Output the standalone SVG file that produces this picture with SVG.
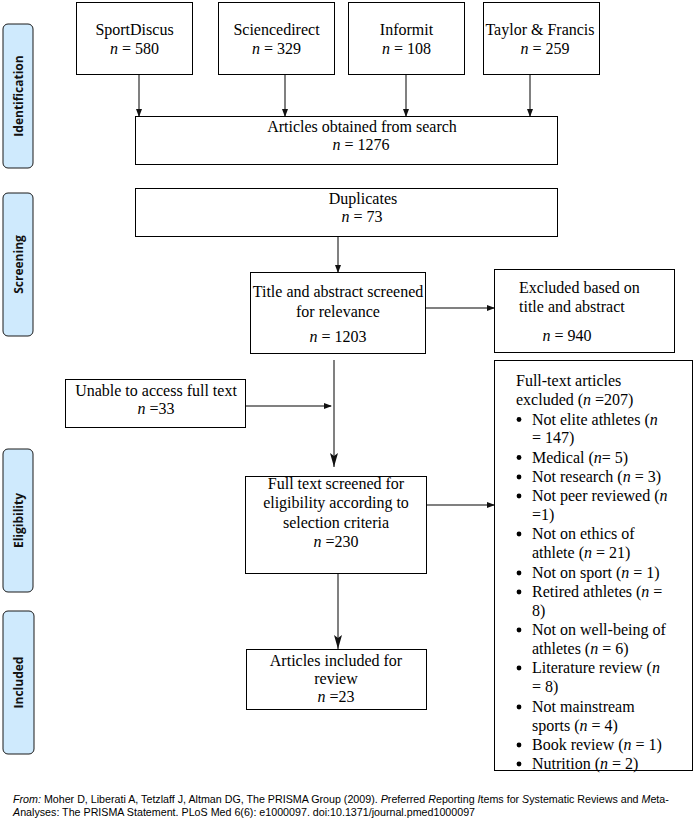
<svg xmlns="http://www.w3.org/2000/svg" width="696" height="827" viewBox="0 0 696 827">
<defs>
<style>
.box{fill:#fff;stroke:#000;stroke-width:1}
.lab{fill:#cfeafd;stroke:#1a1a1a;stroke-width:1}
.lt{font-family:"Open Sans","DejaVu Sans",sans-serif;font-weight:700;font-size:12px;fill:#111;text-anchor:middle}
.t{font-family:"Liberation Serif","Times New Roman",serif;font-size:16px;fill:#000}
.c{text-anchor:middle}
.i{font-style:italic}
.ln{fill:none;stroke:#808080;stroke-width:2}
.foot{font-family:"Liberation Sans",Arial,sans-serif;font-size:10.7px;fill:#000}
</style>
<marker id="ah" markerWidth="8" markerHeight="6" refX="7" refY="3" orient="auto" markerUnits="userSpaceOnUse">
<path d="M0,0 L8,3 L0,6 Z" fill="#111"/>
</marker>
<marker id="ahl" markerWidth="14" markerHeight="8" refX="14" refY="4" orient="auto" markerUnits="userSpaceOnUse">
<path d="M0,0 L14,4 L0,8 L3,4 Z" fill="#111"/>
</marker>
</defs>
<rect width="696" height="827" fill="#fff"/>

<g id="labels">
<g id="lab-identification"><rect class="lab" x="3" y="24" width="30" height="144" rx="5"/><text class="lt" transform="translate(22.5,96) rotate(-90)">Identification</text></g>
<g id="lab-screening"><rect class="lab" x="3" y="193" width="30" height="143" rx="5"/><text class="lt" transform="translate(22.5,264.5) rotate(-90)">Screening</text></g>
<g id="lab-eligibility"><rect class="lab" x="3" y="449" width="30" height="143" rx="5"/><text class="lt" transform="translate(22.5,520.5) rotate(-90)">Eligibility</text></g>
<g id="lab-included"><rect class="lab" x="3" y="611" width="31" height="143" rx="5"/><text class="lt" transform="translate(23,682.5) rotate(-90)">Included</text></g>
</g>

<g id="connectors">
<line class="ln" x1="139" y1="74" x2="139" y2="116" marker-end="url(#ah)"/>
<line class="ln" x1="285" y1="74" x2="285" y2="116" marker-end="url(#ah)"/>
<line class="ln" x1="406" y1="74" x2="406" y2="116" marker-end="url(#ah)"/>
<line class="ln" x1="530" y1="74" x2="530" y2="116" marker-end="url(#ah)"/>
<line class="ln" x1="338" y1="236" x2="338" y2="272" marker-end="url(#ah)"/>
<line class="ln" x1="425" y1="308" x2="494" y2="308" marker-end="url(#ah)"/>
<line class="ln" x1="334" y1="360" x2="334" y2="467" marker-end="url(#ahl)"/>
<line class="ln" x1="245" y1="406" x2="331" y2="406" marker-end="url(#ah)"/>
<line class="ln" x1="426" y1="505" x2="494" y2="505" marker-end="url(#ah)"/>
<line class="ln" x1="338" y1="573" x2="338" y2="649" marker-end="url(#ahl)"/>
</g>

<g id="sportdiscus"><rect class="box" x="76.5" y="2.5" width="116" height="72"/>
<text class="t c" x="134.5" y="35">SportDiscus</text><text class="t c" x="134.5" y="54"><tspan class="i">n</tspan> = 580</text></g>
<g id="sciencedirect"><rect class="box" x="218.5" y="2.5" width="116" height="72"/>
<text class="t c" x="276.5" y="35">Sciencedirect</text><text class="t c" x="276.5" y="54"><tspan class="i">n</tspan> = 329</text></g>
<g id="informit"><rect class="box" x="348.5" y="2.5" width="116" height="72"/>
<text class="t c" x="406.5" y="35">Informit</text><text class="t c" x="406.5" y="54"><tspan class="i">n</tspan> = 108</text></g>
<g id="taylor"><rect class="box" x="483.5" y="2.5" width="116" height="72"/>
<text class="t c" x="540" y="35">Taylor &amp; Francis</text><text class="t c" x="545" y="54"><tspan class="i">n</tspan> = 259</text></g>

<g id="articles-obtained"><rect class="box" x="135.5" y="116.5" width="422" height="48"/>
<text class="t c" x="362" y="132">Articles obtained from search</text><text class="t c" x="361" y="150"><tspan class="i">n</tspan> = 1276</text></g>

<g id="duplicates"><rect class="box" x="135.5" y="188.5" width="422" height="48"/>
<text class="t c" x="363" y="204">Duplicates</text><text class="t c" x="362" y="222"><tspan class="i">n</tspan> = 73</text></g>

<g id="title-abstract"><rect class="box" x="250.5" y="272.5" width="175" height="81"/>
<text class="t c" x="338" y="297">Title and abstract screened</text><text class="t c" x="338" y="317">for relevance</text><text class="t c" x="338" y="342"><tspan class="i">n</tspan> = 1203</text></g>

<g id="excluded-title"><rect class="box" x="494.5" y="269.5" width="180" height="83"/>
<text class="t" x="519" y="293">Excluded based on</text><text class="t" x="519" y="312">title and abstract</text><text class="t c" x="567" y="341"><tspan class="i">n</tspan> = 940</text></g>

<g id="unable"><rect class="box" x="65.5" y="379.5" width="180" height="48"/>
<text class="t c" x="156" y="396">Unable to access full text</text><text class="t c" x="156" y="414"><tspan class="i">n</tspan> =33</text></g>

<g id="full-text"><rect class="box" x="245.5" y="476.5" width="181" height="97"/>
<text class="t c" x="336" y="489">Full text screened for</text><text class="t c" x="336" y="508">eligibility according to</text><text class="t c" x="336" y="528">selection criteria</text><text class="t c" x="336" y="547"><tspan class="i">n</tspan> =230</text></g>

<g id="included"><rect class="box" x="246.5" y="649.5" width="180" height="60"/>
<text class="t c" x="336" y="666">Articles included for</text><text class="t c" x="336" y="684">review</text><text class="t c" x="336" y="702"><tspan class="i">n</tspan> =23</text></g>

<g id="excluded-full"><rect class="box" x="494.5" y="360.5" width="198" height="410"/>
<text class="t" x="516" y="386">Full-text articles</text>
<text class="t" x="516" y="405">excluded (<tspan class="i">n</tspan> =207)</text>
<g fill="#000">
<circle cx="519" cy="419.5" r="2.4"/><circle cx="519" cy="457.5" r="2.4"/><circle cx="519" cy="477" r="2.4"/><circle cx="519" cy="496" r="2.4"/><circle cx="519" cy="534" r="2.4"/><circle cx="519" cy="573" r="2.4"/><circle cx="519" cy="592" r="2.4"/><circle cx="519" cy="630" r="2.4"/><circle cx="519" cy="668" r="2.4"/><circle cx="519" cy="707" r="2.4"/><circle cx="519" cy="745" r="2.4"/><circle cx="519" cy="764" r="2.4"/>
</g>
<text class="t" x="532" y="424.5">Not elite athletes (<tspan class="i">n</tspan></text>
<text class="t" x="532" y="443">= 147)</text>
<text class="t" x="532" y="462.5">Medical (<tspan class="i">n</tspan>= 5)</text>
<text class="t" x="532" y="482">Not research (<tspan class="i">n</tspan> = 3)</text>
<text class="t" x="532" y="501">Not peer reviewed (<tspan class="i">n</tspan></text>
<text class="t" x="532" y="520">=1)</text>
<text class="t" x="532" y="539">Not on ethics of</text>
<text class="t" x="532" y="558">athlete (<tspan class="i">n</tspan> = 21)</text>
<text class="t" x="532" y="578">Not on sport (<tspan class="i">n</tspan> = 1)</text>
<text class="t" x="532" y="597">Retired athletes (<tspan class="i">n</tspan> =</text>
<text class="t" x="532" y="616">8)</text>
<text class="t" x="532" y="635">Not on well-being of</text>
<text class="t" x="532" y="654">athletes (<tspan class="i">n</tspan> = 6)</text>
<text class="t" x="532" y="673">Literature review (<tspan class="i">n</tspan></text>
<text class="t" x="532" y="692">= 8)</text>
<text class="t" x="532" y="712">Not mainstream</text>
<text class="t" x="532" y="731">sports (<tspan class="i">n</tspan> = 4)</text>
<text class="t" x="532" y="750">Book review (<tspan class="i">n</tspan> = 1)</text>
<text class="t" x="532" y="769">Nutrition (<tspan class="i">n</tspan> = 2)</text>
</g>

<g id="footer">
<text class="foot" x="13" y="803"><tspan class="i">From:</tspan> Moher D, Liberati A, Tetzlaff J, Altman DG, The PRISMA Group (2009). <tspan class="i">P</tspan>referred <tspan class="i">R</tspan>eporting <tspan class="i">I</tspan>tems for <tspan class="i">S</tspan>ystematic Reviews and <tspan class="i">M</tspan>eta-</text>
<text class="foot" x="13" y="816"><tspan class="i">A</tspan>nalyses: The PRISMA Statement. PLoS Med 6(6): e1000097. doi:10.1371/journal.pmed1000097</text>
</g>
</svg>
